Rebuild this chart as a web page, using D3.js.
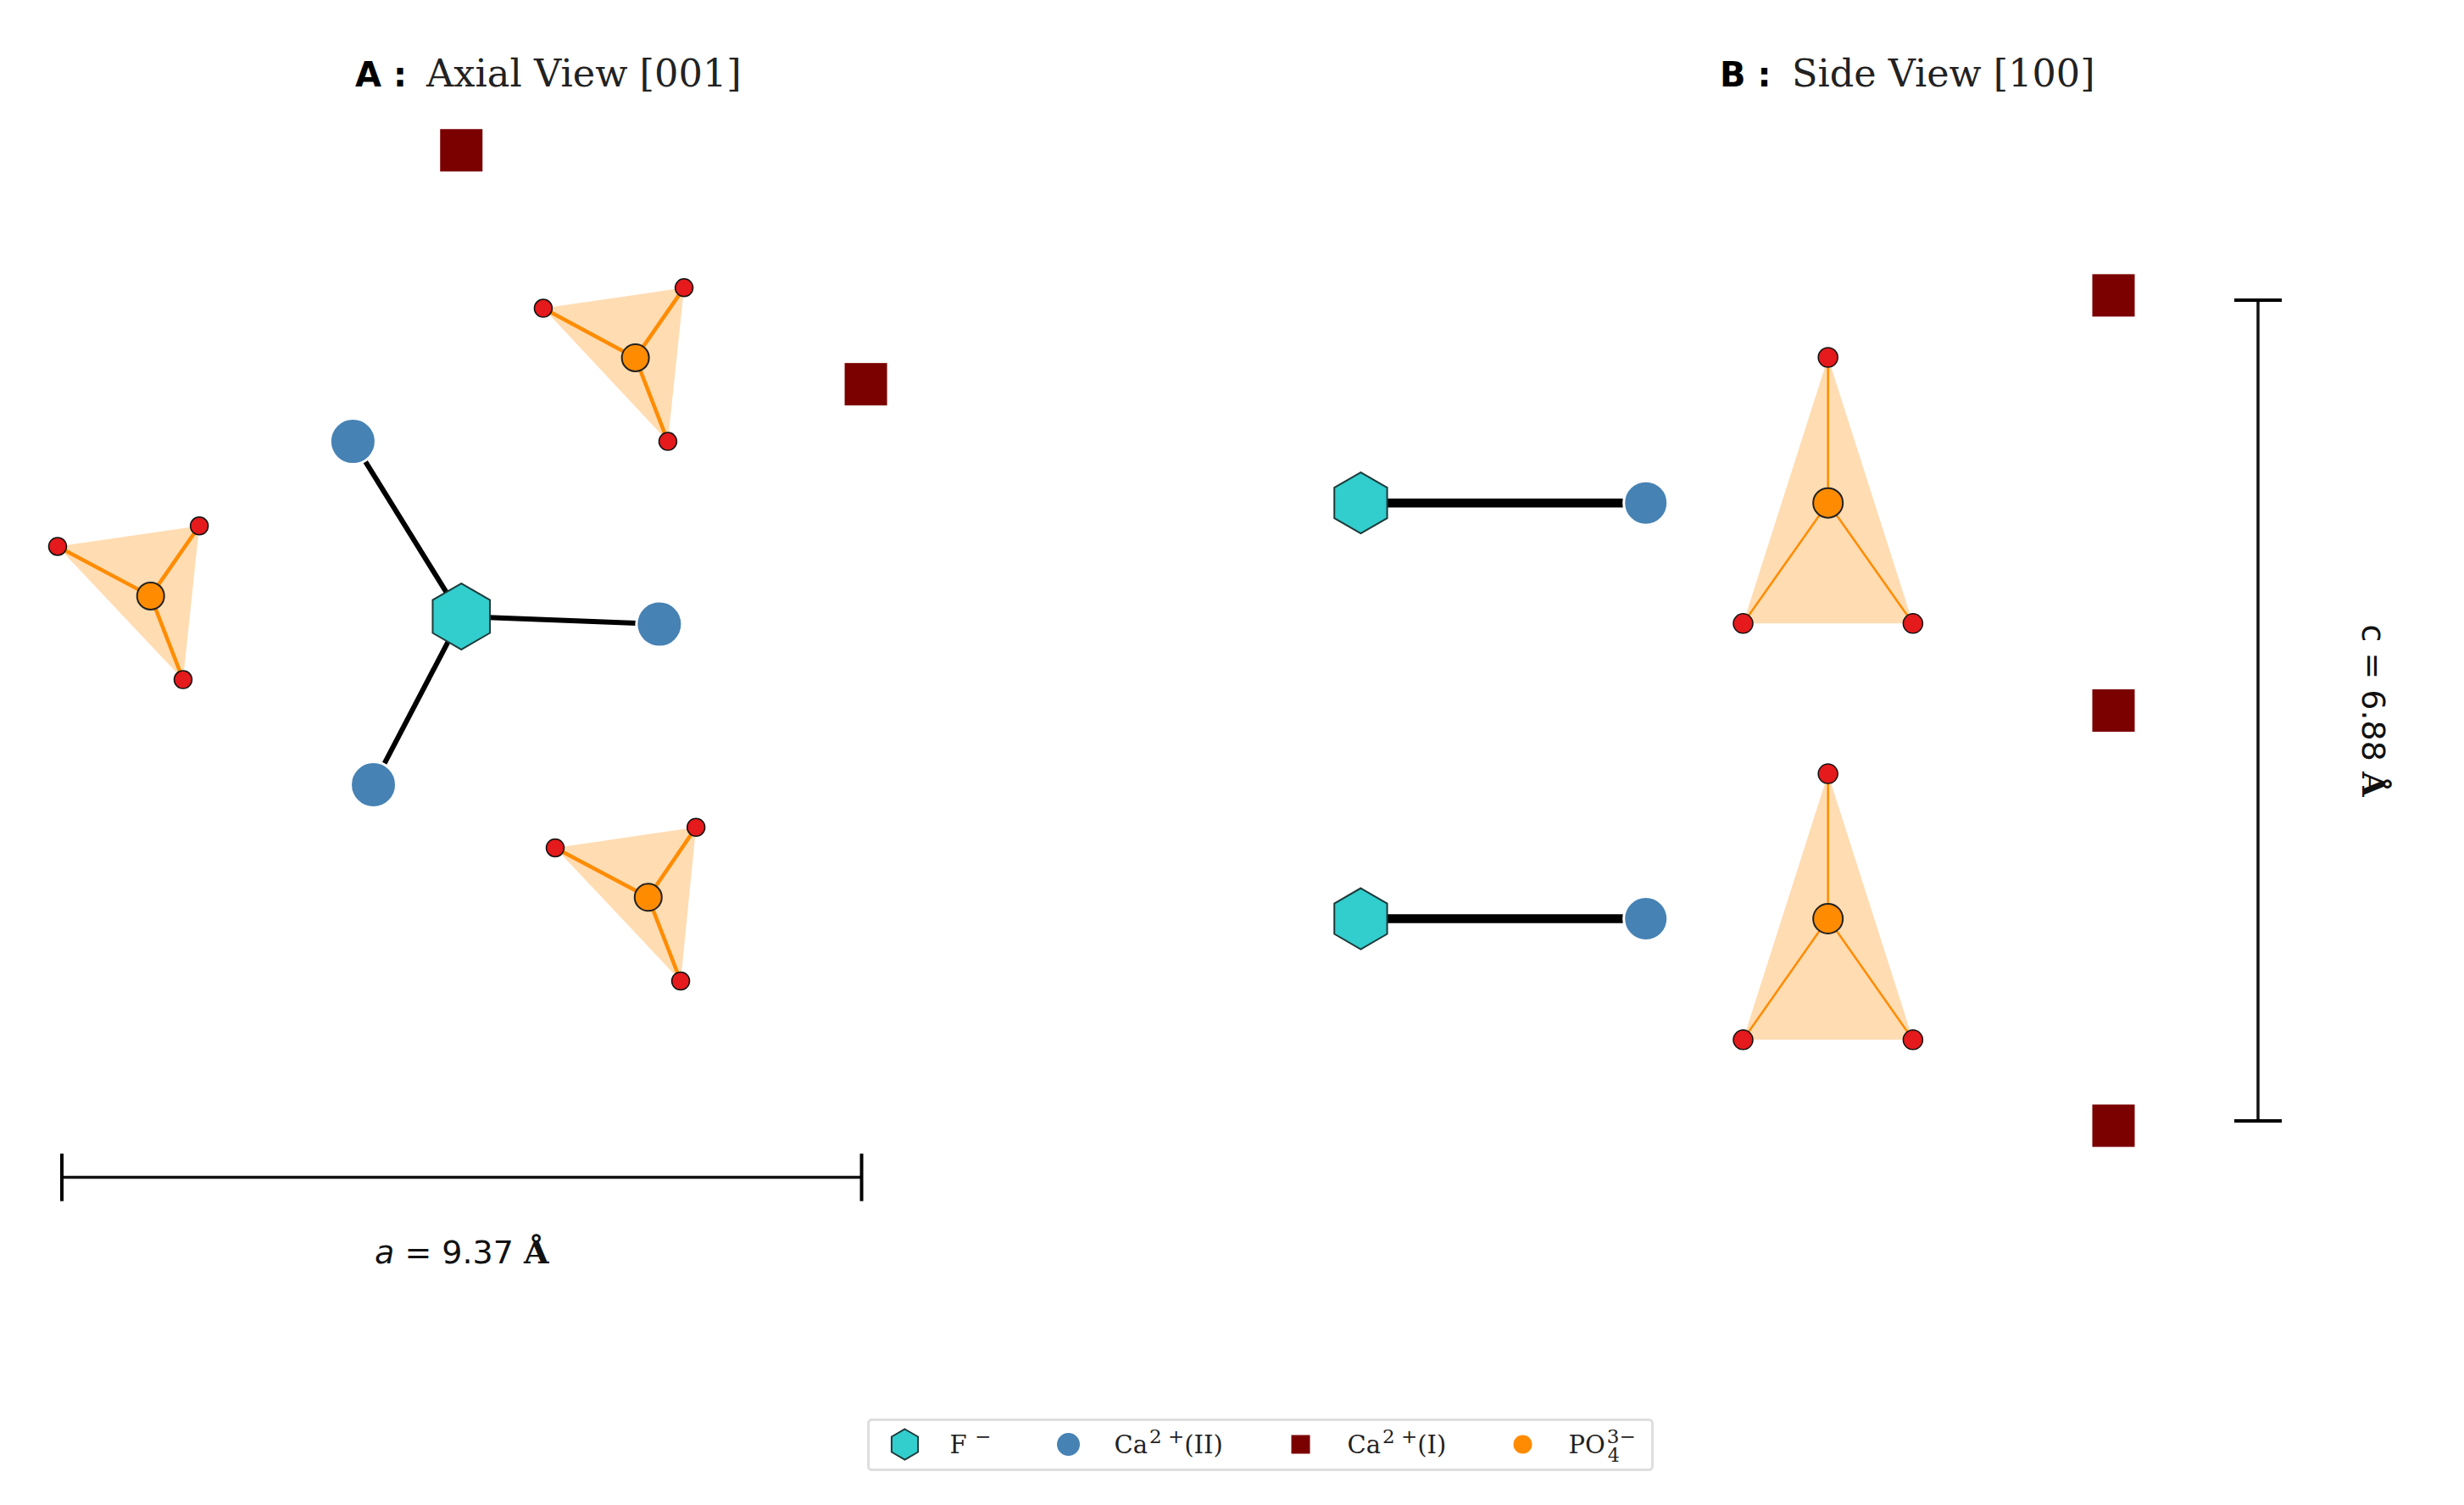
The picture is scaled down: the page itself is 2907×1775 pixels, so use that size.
<!DOCTYPE html>
<html>
<head>
<meta charset="utf-8">
<script src="https://cdn.jsdelivr.net/npm/d3@7"></script>
<style>
  html, body { margin: 0; padding: 0; background: #fff; }
  svg { display: block; }
</style>
</head>
<body>
<div id="chart"></div>
<script>
// panel A, coordinates in angstrom
var axialFluoride = [[4.68, 6.57]];
var axialCaII = [[3.41, 8.62], [7.00, 6.48], [3.65, 4.60]];
var axialCaI = [[4.68, 12.03], [9.42, 9.29]];
var axialPhosphorus = [[6.72, 9.60], [1.04, 6.81], [6.87, 3.28]];
var axialOxygen = [
    [[5.64, 10.18], [7.29, 10.42], [7.10, 8.62]],
    [[-0.05, 7.39], [1.61, 7.63], [1.42, 5.83]],
    [[5.78, 3.86], [7.43, 4.10], [7.25, 2.30]]
];

// panel B, coordinates in angstrom
var sideFluoride = [[0, 5.18], [0, 1.695]];
var sideCaII = [[3.34, 5.18], [3.34, 1.695]];
var sideCaI = [[8.82, 6.92], [8.82, 3.44], [8.82, -0.04]];
var sidePhosphorus = [[5.475, 5.18], [5.475, 1.695]];
var sideOxygen = [
    [[5.475, 6.40], [4.48, 4.17], [6.47, 4.17]],
    [[5.475, 2.91], [4.48, 0.68], [6.47, 0.68]]
];

var latticeA = 9.37;
var latticeC = 6.88;

var legendLabels = ["F", "Ca", "Ca", "PO"];

const width = 2907;
const height = 1775;

var hexColor = "#32cdcd",
    caIIColor = "#4682b4",
    caIColor = "#7b0000",
    phosphorusColor = "#ff8c00",
    oxygenColor = "#e41a1c",
    serifFont = "'DejaVu Serif', serif",
    sansFont = "'DejaVu Sans', sans-serif";

var svg = d3.select("#chart").append("svg")
    .attr("width", width)
    .attr("height", height);

var xA = d3.scaleLinear().domain([0, latticeA]).range([73, 1016.5]);
var yA = d3.scaleLinear().domain([0, latticeA]).range([1388.6, 445.1]);
var xB = d3.scaleLinear().domain([0, 10]).range([1605.4, 2612.3]);
var yB = d3.scaleLinear().domain([0, latticeC]).range([1322, 354]);

function hexPath(r) {
    var pts = d3.range(6).map(function(i) {
        var a = Math.PI / 3 * i;
        return [r * Math.sin(a), -r * Math.cos(a)];
    });
    return d3.line()(pts) + "Z";
}

function drawHex(g, x, y, r) {
    g.append("path")
        .attr("d", hexPath(r))
        .attr("transform", "translate(" + x + "," + y + ")")
        .attr("fill", hexColor)
        .attr("stroke", "#1d3a3a")
        .attr("stroke-width", 2);
}

function drawBlue(g, x, y, r) {
    g.append("circle")
        .attr("cx", x).attr("cy", y).attr("r", r)
        .attr("fill", caIIColor)
        .attr("stroke", "#fff")
        .attr("stroke-width", 3);
}

function drawSquare(g, x, y, size) {
    g.append("rect")
        .attr("x", x - size / 2).attr("y", y - size / 2)
        .attr("width", size).attr("height", size)
        .attr("fill", caIColor);
}

function drawPanel(g, x, y, opts) {
    // bonds from fluoride first so the atoms sit on top
    opts.bonds.forEach(function(b) {
        g.append("line")
            .attr("x1", x(b[0][0])).attr("y1", y(b[0][1]))
            .attr("x2", x(b[1][0])).attr("y2", y(b[1][1]))
            .attr("stroke", "#000")
            .attr("stroke-width", opts.bondWidth);
    });
    opts.fluoride.forEach(function(d) { drawHex(g, x(d[0]), y(d[1]), opts.hexR); });
    opts.caII.forEach(function(d) { drawBlue(g, x(d[0]), y(d[1]), opts.blueR); });
    opts.caI.forEach(function(d) { drawSquare(g, x(d[0]), y(d[1]), 50); });

    opts.oxygen.forEach(function(tri, i) {
        var p = opts.phosphorus[i];
        g.append("polygon")
            .attr("points", tri.map(function(d) { return x(d[0]) + "," + y(d[1]); }).join(" "))
            .attr("fill", phosphorusColor)
            .attr("fill-opacity", 0.3);
        tri.forEach(function(d) {
            g.append("line")
                .attr("x1", x(p[0])).attr("y1", y(p[1]))
                .attr("x2", x(d[0])).attr("y2", y(d[1]))
                .attr("stroke", phosphorusColor)
                .attr("stroke-width", opts.tetraWidth);
        });
        tri.forEach(function(d) {
            g.append("circle")
                .attr("cx", x(d[0])).attr("cy", y(d[1])).attr("r", opts.oxygenR)
                .attr("fill", oxygenColor)
                .attr("stroke", "#111")
                .attr("stroke-width", 1.5);
        });
        g.append("circle")
            .attr("cx", x(p[0])).attr("cy", y(p[1])).attr("r", opts.phosphorusR)
            .attr("fill", phosphorusColor)
            .attr("stroke", "#222")
            .attr("stroke-width", 2);
    });
}

var panelA = svg.append("g").attr("id", "axial");
var panelB = svg.append("g").attr("id", "side");

drawPanel(panelA, xA, yA, {
    bonds: axialCaII.map(function(d) { return [axialFluoride[0], d]; }),
    bondWidth: 6,
    fluoride: axialFluoride,
    caII: axialCaII,
    caI: axialCaI,
    oxygen: axialOxygen,
    phosphorus: axialPhosphorus,
    hexR: 39,
    blueR: 27,
    oxygenR: 10.5,
    phosphorusR: 16,
    tetraWidth: 4.5
});

drawPanel(panelB, xB, yB, {
    bonds: sideCaII.map(function(d, i) { return [sideFluoride[i], d]; }),
    bondWidth: 10.5,
    fluoride: sideFluoride,
    caII: sideCaII,
    caI: sideCaI,
    oxygen: sideOxygen,
    phosphorus: sidePhosphorus,
    hexR: 36,
    blueR: 26,
    oxygenR: 11.5,
    phosphorusR: 17.5,
    tetraWidth: 2.5
});

// titles
function title(letter, letterX, label, labelX, size) {
    var t = svg.append("text").attr("y", 102).attr("font-size", size);
    t.append("tspan").attr("x", letterX)
        .attr("font-family", sansFont).attr("font-weight", "bold")
        .attr("font-size", 40).attr("fill", "#000").text(letter + " :");
    t.append("tspan").attr("x", labelX)
        .attr("font-family", serifFont).attr("fill", "#222").text(label);
}
title("A", 419, "Axial View [001]", 503, 44.7);
title("B", 2029, "Side View [100]", 2114, 44.5);

// scale bars
var barA = svg.append("g").attr("id", "bar-a");
barA.append("line").attr("x1", xA(0)).attr("x2", xA(latticeA))
    .attr("y1", yA(0)).attr("y2", yA(0))
    .attr("stroke", "#111").attr("stroke-width", 3.5);
[0, latticeA].forEach(function(v) {
    barA.append("line").attr("x1", xA(v)).attr("x2", xA(v))
        .attr("y1", yA(0) - 28).attr("y2", yA(0) + 28)
        .attr("stroke", "#000").attr("stroke-width", 4);
});
var labelA = barA.append("text")
    .attr("x", xA(latticeA / 2)).attr("y", 1490)
    .attr("text-anchor", "middle")
    .attr("font-size", 38).attr("font-family", sansFont).attr("fill", "#111");
labelA.append("tspan").attr("font-style", "italic").text("a");
labelA.append("tspan").text(" = " + latticeA.toFixed(2) + " ");
labelA.append("tspan").attr("font-family", serifFont).attr("font-weight", "bold").text("Å");

var barC = svg.append("g").attr("id", "bar-c");
barC.append("line").attr("x1", 2664).attr("x2", 2664)
    .attr("y1", yB(latticeC)).attr("y2", yB(0))
    .attr("stroke", "#111").attr("stroke-width", 3.5);
[0, latticeC].forEach(function(v) {
    barC.append("line").attr("x1", 2664 - 28).attr("x2", 2664 + 28)
        .attr("y1", yB(v)).attr("y2", yB(v))
        .attr("stroke", "#000").attr("stroke-width", 4);
});
var labelC = barC.append("text")
    .attr("transform", "translate(2787,838) rotate(90)")
    .attr("text-anchor", "middle")
    .attr("font-size", 38).attr("font-family", sansFont).attr("fill", "#111");
labelC.append("tspan").text("c = " + latticeC.toFixed(2) + " ");
labelC.append("tspan").attr("font-family", serifFont).attr("font-weight", "bold").text("Å");

// legend
var legend = svg.append("g").attr("id", "legend");
var legendY = 1711;
legend.append("rect")
    .attr("x", 1031).attr("y", 1682).attr("width", 925).attr("height", 59).attr("rx", 4)
    .attr("fill", "#fff").attr("stroke", "#dedede").attr("stroke-width", 3);

drawHex(legend, 1074, legendY, 18);
drawBlue(legend, 1267, legendY, 15);
drawSquare(legend, 1541, legendY, 22);
legend.append("circle").attr("cx", 1803).attr("cy", legendY).attr("r", 11).attr("fill", phosphorusColor);

function legendText(x, label) {
    return legend.append("text").attr("x", x).attr("y", legendY + 10)
        .attr("font-family", serifFont).attr("font-size", 29).attr("fill", "#222").text(label);
}
function sup(t, s) {
    t.append("tspan").attr("dy", -12).attr("dx", 2).attr("font-size", 23).text(s);
}
var f = legendText(1127, legendLabels[0]);
sup(f, " \u2212");
var c2 = legendText(1321, legendLabels[1]);
sup(c2, "2 +");
c2.append("tspan").attr("dy", 12).text("(II)");
var c1 = legendText(1596, legendLabels[2]);
sup(c1, "2 +");
c1.append("tspan").attr("dy", 12).text("(I)");
var po = legendText(1857, legendLabels[3]);
sup(po, "3\u2212");
po.append("tspan").attr("dx", -33).attr("dy", 22).attr("font-size", 22).text("4");

// the reference legend sits a little higher and further left
legend.attr("transform", "translate(-6.5,-7.5)");
</script>
</body>
</html>
